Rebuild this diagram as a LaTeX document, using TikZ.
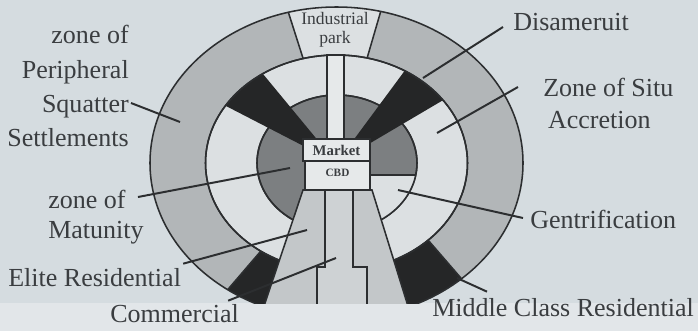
\documentclass[tikz,border=0pt]{standalone}
\usepackage{fontspec}
\setmainfont{Liberation Serif}
\usepackage{tikz}
\usetikzlibrary{calc}
\definecolor{Paper}{HTML}{D5DCE0}
\definecolor{PaperLow}{HTML}{E2E6E9}
\definecolor{Ink}{HTML}{2C2E30}
\definecolor{Txt}{HTML}{3A3D40}
\definecolor{Ring}{HTML}{B2B6B8}
\definecolor{Pale}{HTML}{DCE0E2}
\definecolor{Core}{HTML}{7C7F81}
\definecolor{Dark}{HTML}{252627}
\definecolor{Sector}{HTML}{C3C7C9}
\definecolor{Lane}{HTML}{CED2D4}
\definecolor{Spine}{HTML}{E6E9EA}

\begin{document}
\begin{tikzpicture}[x=0.025cm,y=-0.025cm,
  lbl/.style={font=\fontsize{18.5}{24.5}\selectfont,text=Txt,inner sep=0pt},
  zone/.style={draw=Ink,line width=1.1pt},
  lead/.style={draw=Ink,line width=1.4pt},
  box/.style={draw=Ink,line width=1pt,fill=Spine,text=Txt,inner sep=0pt}
]
\useasboundingbox (0,0) rectangle (698,331);
\fill[Paper] (0,0) rectangle (698,331);
\fill[PaperLow] (0,303) rectangle (698,331);
\coordinate (o) at (336.5,163);
\coordinate (c) at (337,163);
\begin{scope}
\clip (0,0) rectangle (698,303);
\fill[Ring] (o) ellipse [x radius=186.5,y radius=156];
\begin{scope}
\clip (o) ellipse [x radius=186.5,y radius=156];
\fill[Pale] (o) -- ($(o)!3!(302,55)$) -- ($(o)!3!(368,55)$) -- cycle;
\fill[Dark] (o) -- ($(o)!3!(230,287)$) -- (336,700) -- cycle;
\fill[Dark] (336,166) -- (364,166) -- (524,351) -- (336,400) -- cycle;
\draw[zone] (o) -- ($(o)!3!(302,55)$) (o) -- ($(o)!3!(368,55)$);
\draw[zone] (o) -- ($(o)!3!(230,287)$) (364,166) -- (524,351);
\end{scope}
\draw[zone] (o) ellipse [x radius=186.5,y radius=156];
\filldraw[zone,fill=Pale] (o) ellipse [x radius=131,y radius=108];
\filldraw[zone,fill=Core] (c) ellipse [x radius=80,y radius=68];
\begin{scope}
\clip (c) ellipse [x radius=80,y radius=68];
\fill[Pale] (350,175) rectangle (430,260);
\draw[zone] (350,175) -- (430,175);
\end{scope}
\draw[zone] (c) ellipse [x radius=80,y radius=68];
\begin{scope}
\clip (o) ellipse [x radius=131,y radius=108];
\fill[Dark] (o) -- ($(o)!1.3!(226,106)$) -- ($(o)!1.3!(263,74)$) -- cycle;
\fill[Dark] (o) -- ($(o)!1.3!(406,69)$) -- ($(o)!1.3!(445,99)$) -- cycle;
\end{scope}
\draw[zone] (o) ellipse [x radius=131,y radius=108];
\filldraw[zone,fill=Sector] (303,190) -- (372,190) -- (418.5,340) -- (252.6,340) -- cycle;
\fill[Lane] (325,190) -- (353,190) -- (353,267) -- (367,267) -- (367,340) -- (317,340) -- (317,267) -- (325,267) -- cycle;
\draw[zone] (325,190) -- (325,267) -- (317,267) -- (317,340) (353,190) -- (353,267) -- (367,267) -- (367,340);
\filldraw[zone,fill=Spine] (327,55) rectangle (344,140);
\end{scope}
\node[box,minimum width=1.675cm,minimum height=0.55cm,font=\fontsize{10.5}{10.5}\selectfont\bfseries] (mkt) at (336.5,150) {Market};
\node[box,minimum width=1.625cm,minimum height=0.725cm,font=\fontsize{8}{8}\selectfont\bfseries,text depth=0.12cm] (cbd) at (337.5,175.5) {CBD};
\node[font=\fontsize{12.5}{13.5}\selectfont,text=Txt,align=center,inner sep=0pt,anchor=north] (ind) at (335,12.5) {Industrial\\park};
\node[lbl,align=right,anchor=north east] (sq) at (129,25) {zone of\\Peripheral\\Squatter\\Settlements};
\node[lbl,align=left,anchor=north west,font=\fontsize{18.5}{21.5}\selectfont] (mat) at (48,190) {zone of\\Matunity};
\node[lbl,anchor=base west] (eli) at (8,286) {Elite Residential};
\node[lbl,anchor=base west] (com) at (110,322) {Commercial};
\node[lbl,anchor=base west] (dis) at (513,30) {Disameruit};
\node[lbl,align=left,anchor=north west,font=\fontsize{18.5}{22.7}\selectfont] (zsa) at (543,78) {Zone of Situ\\\hspace*{0.12cm}Accretion};
\node[lbl,anchor=base west] (gen) at (530,228) {Gentrification};
\node[lbl,anchor=base west] (mcr) at (432,316) {Middle Class Residential};
\coordinate (pSq) at (180,122);
\coordinate (pMat) at (290,168);
\coordinate (pEli) at (307,230);
\coordinate (pCom) at (336,258);
\coordinate (pDis) at (423,78);
\coordinate (pZsa) at (437,133);
\coordinate (pGen) at (398,190);
\coordinate (pMcr) at (457,278);
\draw[lead] ([shift={(2,78)}]sq.north east) -- (pSq);
\draw[lead] ([shift={(-6,7)}]mat.north east) -- (pMat);
\draw[lead] ([shift={(2,-4)}]eli.north east) -- (pEli);
\draw[lead] ([shift={(-11,-3)}]com.north east) -- (pCom);
\draw[lead] ([shift={(-10,-3)}]dis.base west) -- (pDis);
\draw[lead] ([shift={(-25,9)}]zsa.north west) -- (pZsa);
\draw[lead] ([shift={(-7,-10)}]gen.base west) -- (pGen);
\draw[lead] ([shift={(55,-6)}]mcr.north west) -- (pMcr);
\end{tikzpicture}
\end{document}
